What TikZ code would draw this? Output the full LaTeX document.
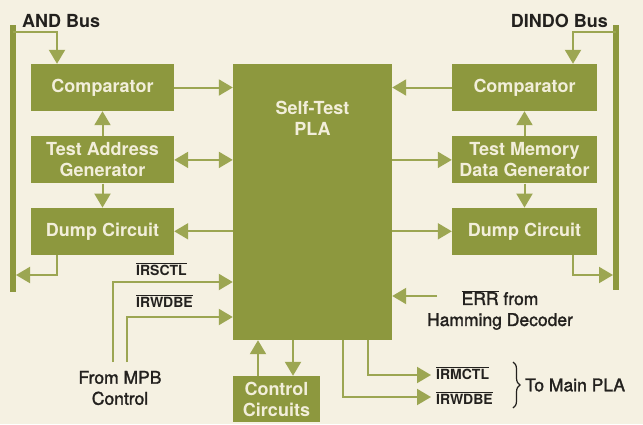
\documentclass[tikz,border=0pt]{standalone}
\usepackage{fontspec}
\setmainfont{TeX Gyre Heros}
\newfontfamily\medfont{TeX Gyre Heros}[FakeBold=1.6]
\usetikzlibrary{positioning, arrows.meta, calc, decorations.pathreplacing}
\usepackage{xcolor}
\definecolor{paper}{RGB}{245,241,226}
\definecolor{olive}{RGB}{141,152,62}
\definecolor{wiregreen}{RGB}{156,166,82}
\definecolor{boxtext}{RGB}{242,238,218}
\definecolor{ink}{RGB}{35,33,30}
\newcommand{\notsig}[1]{$\overline{\hbox{#1}}$}

\begin{document}
\begin{tikzpicture}[
  x=1pt, y=-1pt,
  >={Triangle[width=16pt,length=14pt]},
  block/.style={fill=olive, text=boxtext, font=\bfseries\fontsize{18}{21}\selectfont,
    align=center, inner sep=0pt, minimum width=143pt, minimum height=47pt},
  conn/.style={draw=wiregreen, line width=2pt},
  bus/.style={draw=olive, line width=6pt},
  lbl/.style={text=ink, font=\medfont\fontsize{17.5}{21}\selectfont, align=center, inner sep=0pt},
  sig/.style={text=ink, font=\bfseries\fontsize{14}{15}\selectfont, inner sep=0pt},
]
\fill[paper] (0,0) rectangle (643,424);

% left column
\node[block] (cmpL) at (102.5,87.5) {Comparator};
\node[block, below=25pt of cmpL] (tagL) {Test Address\\Generator};
\node[block, below=24pt of tagL] (dmpL) {Dump Circuit};

% right column
\node[block, minimum width=145pt] (cmpR) at (524.5,87.5) {Comparator};
\node[block, minimum width=145pt, below=25pt of cmpR] (tmdR) {Test Memory\\Data Generator};
\node[block, minimum width=145pt, below=24pt of tmdR] (dmpR) {Dump Circuit};

% centre
\node[block, minimum width=159pt, minimum height=276pt] (pla) at (312.5,202) {};
\node[text=boxtext, font=\bfseries\fontsize{18}{21}\selectfont, align=center, below=34pt of pla.north] (plaName) {Self-Test\\PLA};
\node[block, minimum width=87pt, minimum height=46pt] (ctrl) at (276.5,399) {Control\\Circuits};

% buses
\coordinate (busLtop) at (13,32);
\coordinate (busLbot) at (16,275);
\coordinate (busRtop) at (616,32);
\coordinate (busRbot) at (613,275);
\draw[bus] (13,25) -- (13,292);
\draw[bus] (616,25) -- (616,290);
\node[text=ink, font=\bfseries\fontsize{18}{20}\selectfont, anchor=south west, inner sep=0pt] (andBus) at (22,28) {AND Bus};
\node[text=ink, font=\bfseries\fontsize{18}{20}\selectfont, anchor=south east, inner sep=0pt] (dindoBus) at (608,28) {DINDO Bus};

% left connectors
\draw[conn,->] (busLtop) -| ([xshift=-45.5pt]cmpL.north);
\draw[conn,->] (cmpL.east) -- (cmpL.east -| pla.west);
\draw[conn,->] (tagL) -- (cmpL);
\draw[conn,<->] (tagL.east) -- (tagL.east -| pla.west);
\draw[conn,->] (tagL) -- (dmpL);
\draw[conn,->] (dmpL.east -| pla.west) -- (dmpL.east);
\draw[conn,->] ([xshift=-45.5pt]dmpL.south) |- (busLbot);

% right connectors
\draw[conn,->] (busRtop) -| ([xshift=48.5pt]cmpR.north);
\draw[conn,->] (cmpR.west) -- (cmpR.west -| pla.east);
\draw[conn,->] (tmdR) -- (cmpR);
\draw[conn,->] (tmdR.west -| pla.east) -- (tmdR.west);
\draw[conn,->] (tmdR) -- (dmpR);
\draw[conn,->] (dmpR.west -| pla.east) -- (dmpR.west);
\draw[conn,->] ([xshift=48.5pt]dmpR.south) |- (busRbot);

% MPB control inputs
\coordinate (mpbA) at (113,362);
\coordinate (mpbB) at (127,362);
\draw[conn,->] (mpbA) |- ([yshift=-80pt]pla.west);
\draw[conn,->] (mpbB) |- ([yshift=-115pt]pla.west);
\node[sig, anchor=west] (irsctl) at (136,269) {\notsig{IRSCTL}};
\node[sig, anchor=west] (irwdbeIn) at (136,301) {\notsig{IRWDBE}};
\node[lbl] (mpb) at (120,388) {From MPB\\Control};

% control circuits
\draw[conn,->] ([xshift=-18.5pt]ctrl.north) -- ([xshift=-18.5pt]ctrl.north |- pla.south);
\draw[conn,->] ([xshift=16.5pt]ctrl.north |- pla.south) -- ([xshift=16.5pt]ctrl.north);

% hamming decoder input
\coordinate (errIn) at (437,296);
\draw[conn,->] (errIn) -- (errIn -| pla.east);
\node[lbl] (err) at (500,310) {\notsig{ERR} from\\Hamming Decoder};

% outputs to main PLA
\coordinate (outA) at (431,375);
\coordinate (outB) at (431,397);
\draw[conn,->] ([xshift=55.5pt]pla.south) |- (outA);
\draw[conn,->] ([xshift=30.5pt]pla.south) |- (outB);
\node[sig, anchor=west] (irmctl) at (436,373) {\notsig{IRMCTL}};
\node[sig, anchor=west] (irwdbeOut) at (436,398) {\notsig{IRWDBE}};
\draw[ink, line width=1.2pt, decorate, decoration={brace, amplitude=7pt}] (513,362) -- (513,408);
\node[lbl, anchor=west] (mainPla) at (525,385) {To Main PLA};
\end{tikzpicture}
\end{document}
